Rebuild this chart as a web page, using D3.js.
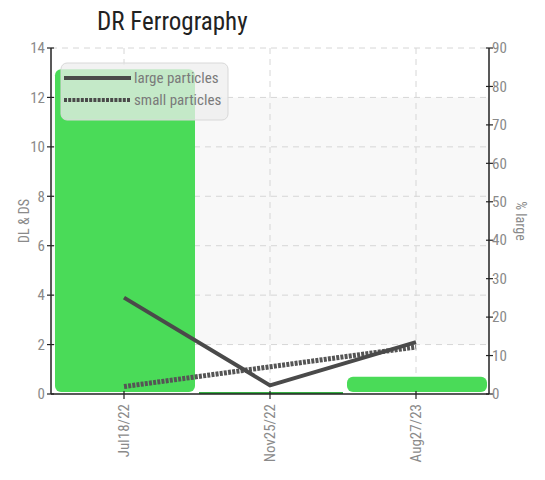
<!DOCTYPE html>
<html><head><meta charset="utf-8">
<script src="https://cdn.jsdelivr.net/npm/d3@7"></script>
<style>
body{margin:0;background:#fff;}
text{font-family:"Roboto Condensed","DejaVu Sans Condensed","Liberation Sans Narrow",sans-serif;font-stretch:condensed;}
</style></head><body>
<svg id="c" width="545" height="480"></svg>
<script>
const categories = ["Jul18/22", "Nov25/22", "Aug27/23"];
const largeParticles = [3.9, 0.35, 2.1];
const smallParticles = [0.3, 1.1, 1.9];
const percentLarge = [85, 0, 5];
const leftTicks = [0, 2, 4, 6, 8, 10, 12, 14];
const rightTicks = [0, 10, 20, 30, 40, 50, 60, 70, 80, 90];

const svg = d3.select("#c");
const L = 51, R = 489, T = 48, B = 394;
const x = d3.scaleBand().domain(categories).range([L, R]);
const yL = d3.scaleLinear().domain([0, 14]).range([B, T]);
const yR = d3.scaleLinear().domain([0, 90]).range([B, T]);
const cx = d => x(d) + x.bandwidth() / 2;

// shaded band
svg.append("rect").attr("x", L).attr("width", R - L)
  .attr("y", yL(12)).attr("height", yL(2) - yL(12)).attr("fill", "#f8f8f8");

// grid
svg.append("g").selectAll("line").data(leftTicks.filter(d => d > 0)).join("line")
  .attr("x1", L).attr("x2", R).attr("y1", d => yL(d)).attr("y2", d => yL(d))
  .attr("stroke", "#d6d6d6").attr("stroke-dasharray", "6,5");
svg.append("g").selectAll("line").data(categories).join("line")
  .attr("x1", cx).attr("x2", cx).attr("y1", T).attr("y2", B)
  .attr("stroke", "#d6d6d6").attr("stroke-dasharray", "6,5");

// bars (% large, right axis)
const barData = categories.map((c, i) => ({c, v: percentLarge[i]}));
svg.append("g").selectAll("rect").data(barData).join("rect")
  .attr("x", d => x(d.c) + (d.v > 0 ? 4 : 2))
  .attr("width", d => x.bandwidth() - (d.v > 0 ? 6 : 2))
  .attr("y", d => d.v > 0 ? yR(d.v) + 2 : B - 2)
  .attr("height", d => d.v > 0 ? yR(0) - yR(d.v) - 4 : 2)
  .attr("rx", d => d.v > 0 ? 6 : 0)
  .attr("fill", d => d.v > 0 ? "#4adb58" : "#36b044");

// lines
const line = d3.line().x((d, i) => cx(categories[i])).y(d => yL(d));
svg.append("path").datum(smallParticles).attr("d", line)
  .attr("fill", "none").attr("stroke", "#555").attr("stroke-width", 5)
  .attr("stroke-dasharray", "3,1.2");
svg.append("path").datum(largeParticles).attr("d", line)
  .attr("fill", "none").attr("stroke", "#4a4a4a").attr("stroke-width", 4);

// axes
const axisColor = "#222", labColor = "#8a8a8a";
const ax = svg.append("g");
ax.append("line").attr("x1", L).attr("x2", L).attr("y1", T).attr("y2", B).attr("stroke", axisColor).attr("stroke-width", 1.5);
ax.append("line").attr("x1", R).attr("x2", R).attr("y1", T).attr("y2", B).attr("stroke", axisColor).attr("stroke-width", 1.5);
ax.append("line").attr("x1", L).attr("x2", R).attr("y1", B).attr("y2", B).attr("stroke", axisColor).attr("stroke-width", 1.5);

ax.selectAll(".lt").data(leftTicks).join("line")
  .attr("x1", L - 4).attr("x2", L + 3).attr("y1", d => yL(d)).attr("y2", d => yL(d))
  .attr("stroke", axisColor).attr("stroke-width", 1.2);
ax.selectAll(".ltx").data(leftTicks).join("text")
  .attr("x", L - 6).attr("y", d => yL(d)).attr("dy", "0.35em")
  .attr("text-anchor", "end").attr("font-size", 15).attr("fill", labColor).text(d => d);

ax.selectAll(".rt").data(rightTicks).join("line")
  .attr("x1", R - 3).attr("x2", R + 4).attr("y1", d => yR(d)).attr("y2", d => yR(d))
  .attr("stroke", axisColor).attr("stroke-width", 1.2);
ax.selectAll(".rtx").data(rightTicks).join("text")
  .attr("x", R + 3).attr("y", d => yR(d)).attr("dy", "0.35em")
  .attr("text-anchor", "start").attr("font-size", 15).attr("fill", labColor).text(d => d);

ax.selectAll(".bt").data(categories).join("line")
  .attr("x1", cx).attr("x2", cx).attr("y1", B - 3).attr("y2", B + 5)
  .attr("stroke", axisColor).attr("stroke-width", 1.2);
ax.selectAll(".btx").data(categories).join("text")
  .attr("transform", d => `translate(${cx(d)},${B + 10}) rotate(-90)`)
  .attr("dy", "0.35em").attr("text-anchor", "end")
  .attr("font-size", 15).attr("fill", labColor).text(d => d);

// axis titles
svg.append("text").attr("transform", `translate(24,${(T + B) / 2}) rotate(-90)`)
  .attr("text-anchor", "middle").attr("dy", "0.35em").attr("font-size", 14).attr("fill", labColor).text("DL & DS");
svg.append("text").attr("transform", `translate(521,${(T + B) / 2}) rotate(90)`)
  .attr("text-anchor", "middle").attr("dy", "0.35em").attr("font-size", 14).attr("fill", labColor).text("% large");

// title
svg.append("text").attr("x", 97).attr("y", 30).attr("font-size", 25).attr("fill", "#222").text("DR Ferrography");

// legend
const lg = svg.append("g");
lg.append("rect").attr("x", 61).attr("y", 63).attr("width", 167).attr("height", 57).attr("rx", 6)
  .attr("fill", "#eeeeee").attr("fill-opacity", 0.75).attr("stroke", "#d8d8d8").attr("stroke-width", 1);
const legendItems = [{name: "large particles", dash: null, y: 78}, {name: "small particles", dash: "3,1.2", y: 100}];
lg.selectAll("line").data(legendItems).join("line")
  .attr("x1", 64).attr("x2", 131).attr("y1", d => d.y).attr("y2", d => d.y)
  .attr("stroke", "#4a4a4a").attr("stroke-width", 4).attr("stroke-dasharray", d => d.dash);
lg.selectAll("text").data(legendItems).join("text")
  .attr("x", 134).attr("y", d => d.y).attr("dy", "0.35em")
  .attr("font-size", 15).attr("fill", "#7a7a7a").text(d => d.name);
</script></body></html>
